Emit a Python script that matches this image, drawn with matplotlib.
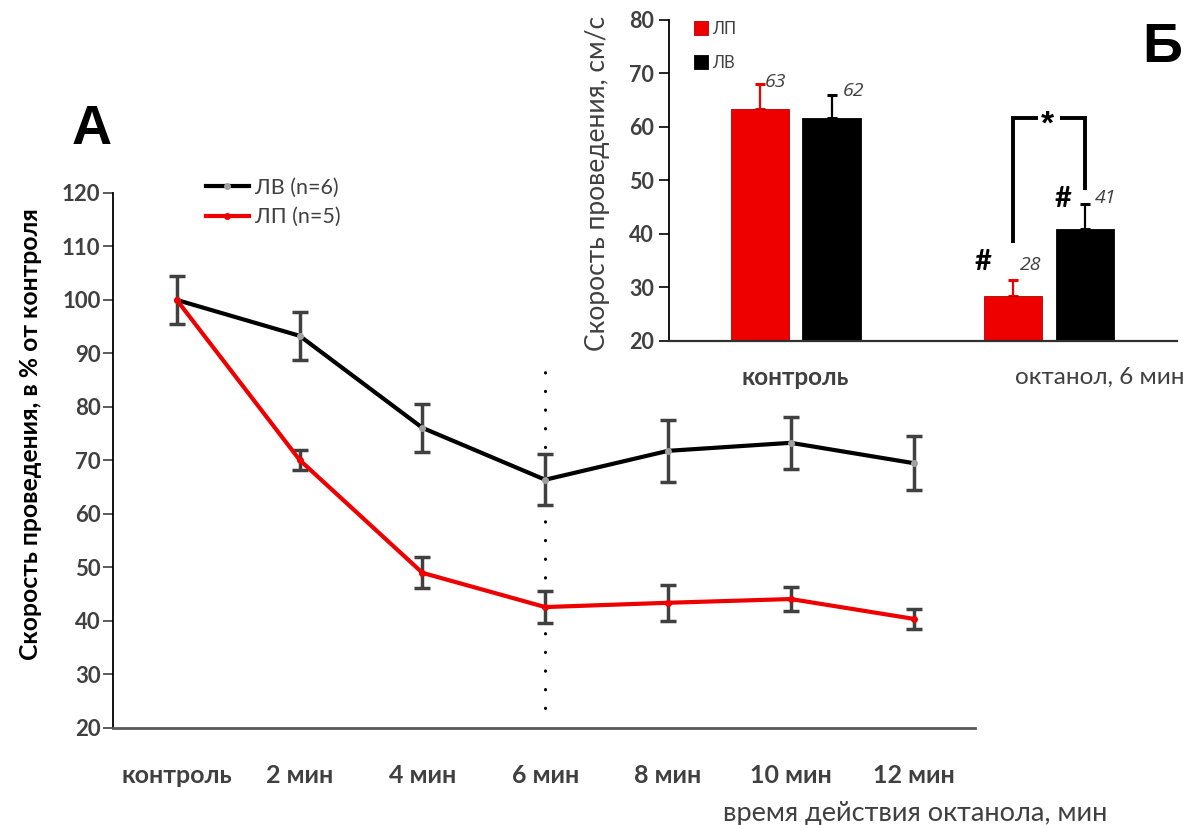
import matplotlib
matplotlib.use("Agg")
import matplotlib.pyplot as plt
import numpy as np

plt.rcParams['font.family'] = ['Lato', 'DejaVu Sans']

# ---- Panel A: conduction velocity, % of control ----
time_labels = ["контроль", "2 мин", "4 мин", "6 мин", "8 мин", "10 мин", "12 мин"]
lv_mean = [100.0, 93.3, 76.1, 66.4, 71.8, 73.3, 69.5]
lv_err = [4.5, 4.5, 4.5, 4.8, 5.8, 4.9, 5.0]
lp_mean = [100.0, 70.1, 49.0, 42.6, 43.4, 44.1, 40.4]
lp_err = [0.0, 1.9, 2.9, 3.0, 3.4, 2.3, 1.9]
lv_name_a = "ЛВ (n=6)"
lp_name_a = "ЛП (n=5)"

# ---- Panel B: absolute conduction velocity, cm/s ----
groups = ["контроль", "октанол, 6 мин"]
lp_speed = [63.4, 28.4]
lp_speed_err = [4.6, 3.0]
lv_speed = [61.7, 40.9]
lv_speed_err = [4.2, 4.7]
lp_speed_lbl = ["63", "28"]
lv_speed_lbl = ["62", "41"]

RED = "#ee0000"
GRAY_TXT = "#404040"
ERR_GRAY = "#404040"

fig = plt.figure(figsize=(11.89, 8.25), dpi=100)

# ================= Panel A =================
axA = fig.add_axes([0.095, 0.1176, 0.725, 0.6485])
x = np.arange(len(time_labels))

lv_err_arr = np.array(lv_err)
lp_err_arr = np.array(lp_err)
mlv = lv_err_arr > 0
mlp = lp_err_arr > 0
axA.errorbar(x[mlp], np.array(lp_mean)[mlp], yerr=lp_err_arr[mlp], fmt='none',
             ecolor=ERR_GRAY, elinewidth=2.5, capsize=5.5, capthick=2.5, zorder=2)
axA.errorbar(x[mlv], np.array(lv_mean)[mlv], yerr=lv_err_arr[mlv], fmt='none',
             ecolor=ERR_GRAY, elinewidth=2.5, capsize=5.5, capthick=2.5, zorder=2)
lv_line, = axA.plot(x, lv_mean, color="black", lw=3.0, marker='o', ms=4,
                    mfc="#a0a0a0", mec="#a0a0a0", zorder=3, label=lv_name_a)
lp_line, = axA.plot(x, lp_mean, color=RED, lw=3.0, marker='o', ms=4,
                    mfc=RED, mec=RED, zorder=4, label=lp_name_a)

# octanol 6 min marker line
axA.plot([3, 3], [23.7, 86.5], color="black", lw=2.2,
         linestyle=(0, (0.1, 6)), dash_capstyle='round', zorder=1)

axA.set_xlim(-0.52, 6.5)
axA.set_ylim(20, 120)
axA.set_yticks(np.arange(20, 121, 10))
axA.set_xticks(x)
axA.set_xticklabels(time_labels, fontsize=18, fontweight='bold', color=GRAY_TXT)
axA.tick_params(axis='x', length=0, pad=26)
axA.tick_params(axis='y', length=7, width=1.2, color=GRAY_TXT, labelsize=16,
                labelcolor=GRAY_TXT, direction='out', pad=2)
for lbl in axA.get_yticklabels():
    lbl.set_fontweight('bold')
axA.spines['top'].set_visible(False)
axA.spines['right'].set_visible(False)
axA.spines['left'].set_linewidth(1.3)
axA.spines['left'].set_color("black")
axA.spines['bottom'].set_linewidth(2.0)
axA.spines['bottom'].set_color("#595959")
axA.set_ylabel("Скорость проведения, в % от контроля", fontsize=17.8,
               fontweight='bold', color="black")
axA.yaxis.set_label_coords(-0.082, 0.55)

fig.text(0.7696, 1 - 821 / 825, "время действия октанола, мин", fontsize=19.5,
         color=GRAY_TXT, ha='center', va='baseline')

legA = axA.legend(handles=[lv_line, lp_line], loc='upper left',
                  bbox_to_anchor=(0.085, 1.065), frameon=False, fontsize=15.5,
                  handlelength=2.0, handletextpad=0.3, labelspacing=0.45,
                  labelcolor=GRAY_TXT)

fig.text(0.060, 0.825, "А", fontsize=40, fontweight='bold',
         family=['Liberation Sans', 'DejaVu Sans'], color="black")

# ================= Panel B =================
axB = fig.add_axes([0.5627, 0.5867, 0.4272, 0.3891])
gx = np.arange(len(groups))
off = 0.142
bw = 0.229

axB.bar(gx - off, lp_speed, width=bw, bottom=0, color=RED, edgecolor="#b00000",
        lw=0.6, zorder=2, label="ЛП")
axB.bar(gx + off, lv_speed, width=bw, bottom=0, color="black", edgecolor="black",
        lw=0.6, zorder=2, label="ЛВ")
axB.errorbar(gx - off, lp_speed, yerr=[np.zeros(len(groups)), lp_speed_err],
             fmt='none', ecolor=RED, elinewidth=1.6, capsize=3.5, capthick=2.2, zorder=1)
axB.errorbar(gx + off, lv_speed, yerr=[np.zeros(len(groups)), lv_speed_err],
             fmt='none', ecolor="black", elinewidth=1.6, capsize=3.5, capthick=2.2, zorder=1)

# value labels beside the error bar tops
lp_lbl_dx = [0.022, 0.028]
lp_lbl_dy = [0.4, 2.8]
lv_lbl_dx = [0.045, 0.04]
lv_lbl_dy = [0.8, 1.2]
for i in range(len(groups)):
    axB.text(gx[i] - off + lp_lbl_dx[i], lp_speed[i] + lp_speed_err[i] + lp_lbl_dy[i],
             lp_speed_lbl[i], fontsize=14, style='italic', color=GRAY_TXT,
             ha='left', va='center', family=['Open Sans', 'DejaVu Sans'])
    axB.text(gx[i] + off + lv_lbl_dx[i], lv_speed[i] + lv_speed_err[i] + lv_lbl_dy[i],
             lv_speed_lbl[i], fontsize=14, style='italic', color=GRAY_TXT,
             ha='left', va='center', family=['Open Sans', 'DejaVu Sans'])

# significance marks
axB.text(0.740, 34.8, "#", fontsize=21, fontweight='bold',
         ha='center', va='center', color="black")
axB.text(1.055, 46.5, "#", fontsize=21, fontweight='bold',
         ha='center', va='center', color="black")
bx_l, bx_r = gx[1] - off, gx[1] + off
ytop = 61.7
axB.plot([bx_l, bx_l, bx_l + 0.1], [38.3, ytop, ytop], color="black", lw=2.8,
         solid_capstyle='butt', solid_joinstyle='miter', clip_on=False)
axB.plot([bx_r - 0.1, bx_r, bx_r], [ytop, ytop, 48.2], color="black", lw=2.8,
         solid_capstyle='butt', solid_joinstyle='miter', clip_on=False)
axB.text(0.992, 60.3, "*", fontsize=24, fontweight='bold',
         ha='center', va='center', color="black",
         family=['Liberation Sans', 'DejaVu Sans'])

axB.set_xlim(-0.499, 1.505)
axB.set_ylim(20, 80)
axB.set_yticks(np.arange(20, 81, 10))
axB.set_xticks([])
axB.tick_params(axis='y', length=7, width=1.2, color="black", labelsize=15.5,
                labelcolor=GRAY_TXT, direction='out', pad=4)
for lbl in axB.get_yticklabels():
    lbl.set_fontweight('bold')
axB.spines['top'].set_visible(False)
axB.spines['right'].set_visible(False)
axB.spines['left'].set_linewidth(1.3)
axB.spines['bottom'].set_linewidth(1.6)
axB.spines['bottom'].set_color("#303030")

axB.text(gx[0], 13.2, groups[0], fontsize=17.5, fontweight='bold', color=GRAY_TXT,
         ha='center', va='center', clip_on=False)
axB.text(gx[1] + 0.2, 13.2, groups[1], fontsize=17.5, color=GRAY_TXT,
         ha='center', va='center', clip_on=False)

axB.set_ylabel("Скорость проведения, см/с", fontsize=19, color=GRAY_TXT)
axB.yaxis.set_label_coords(-0.117, 0.49)

legB = axB.legend(loc='upper left', bbox_to_anchor=(0.02, 1.045), frameon=False,
                  fontsize=12, handlelength=0.8, handleheight=0.9,
                  handletextpad=0.3, labelspacing=1.1, labelcolor=GRAY_TXT)

fig.text(0.961, 0.925, "Б", fontsize=40, fontweight='bold',
         family=['Liberation Sans', 'DejaVu Sans'], color="black")

fig.savefig("out.png", dpi=100)
